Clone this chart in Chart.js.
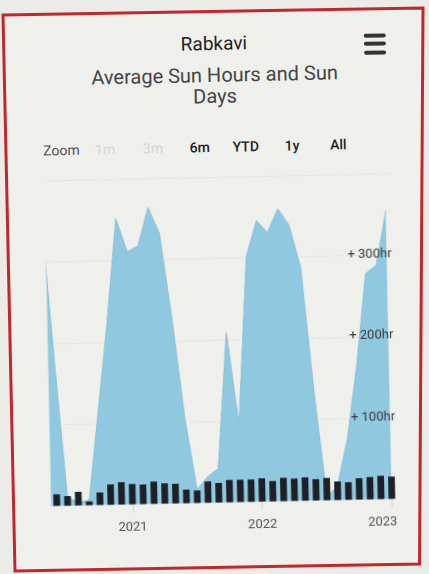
<!DOCTYPE html>
<html>
<head>
<meta charset="utf-8">
<title>Rabkavi - Average Sun Hours and Sun Days</title>
<script src="https://cdn.jsdelivr.net/npm/chart.js@4.4.1/dist/chart.umd.min.js"></script>
<style>
  html, body { margin: 0; padding: 0; width: 429px; height: 574px; overflow: hidden; background: #ebebe8; }
  #frame { position: absolute; left: 0; top: 0; }
  #page { position: absolute; left: 0; top: 0; width: 429px; height: 574px;
          transform: rotate(-1.2deg); transform-origin: 214px 287px; font-family: Roboto, sans-serif; }
  .center { position: absolute; left: 0; width: 438px; text-align: center; white-space: nowrap; }
  #t1 { top: 32.5px; font-size: 19px; line-height: 22px; color: #222; }
  #t2 { top: 65px; font-size: 20px; line-height: 21.3px; color: #444; }
  .btn { position: absolute; top: 139px; width: 44px; text-align: center; font-size: 14px; line-height: 16px; color: #222; font-weight: 500; }
  .btn.off { color: #d6d6d3; font-weight: 400; }
  #zoomLabel { position: absolute; left: 46px; top: 139px; font-size: 14px; line-height: 16px; color: #505050; }
  .bar { position: absolute; left: 369px; width: 22px; height: 4px; border-radius: 2px; background: #333; }
  #chart { position: absolute; left: 0; top: 0; }
</style>
</head>
<body>
<svg id="frame" width="429" height="574">
  <polygon points="3,15 423,8 419.5,564 15,571" fill="#efefec" stroke="#c0282e" stroke-width="3"/>
</svg>
<div id="page">
  <div class="center" id="t1">Rabkavi</div>
  <div class="center" id="t2">Average Sun Hours and Sun<br>Days</div>
  <div class="bar" style="top:36.5px"></div>
  <div class="bar" style="top:45px"></div>
  <div class="bar" style="top:53.5px"></div>
  <div id="zoomLabel">Zoom</div>
  <div class="btn off" style="left:86px">1m</div>
  <div class="btn off" style="left:134px">3m</div>
  <div class="btn" style="left:180.6px">6m</div>
  <div class="btn" style="left:226.7px">YTD</div>
  <div class="btn" style="left:273px">1y</div>
  <div class="btn" style="left:319.3px">All</div>
  <canvas id="chart" width="429" height="574"></canvas>
</div>
<script>
'use strict';

// monthly values, May 2020 .. Jan 2023
const months = [
  '2020-05', '2020-06', '2020-07', '2020-08', '2020-09', '2020-10', '2020-11', '2020-12',
  '2021-01', '2021-02', '2021-03', '2021-04', '2021-05', '2021-06', '2021-07', '2021-08',
  '2021-09', '2021-10', '2021-11', '2021-12', '2022-01', '2022-02', '2022-03', '2022-04',
  '2022-05', '2022-06', '2022-07', '2022-08', '2022-09', '2022-10', '2022-11', '2022-12',
  '2023-01'
];
const sunHours = [
  375, 186, 10, 4, 6, 115, 225, 352,
  311, 318, 365, 333, 228, 105, 17, 32,
  42, 209, 95, 302, 346, 331, 360, 340,
  288, 134, 4, 18, 75, 165, 278, 288,
  355
];
const sunDays = [
  null, 12, 10, 14, 4, 13, 21, 23,
  21, 20, 23, 21, 20, 14, 13, 22,
  20, 23, 23, 23, 24, 21, 24, 23,
  24, 22, 23, 19, 18, 22, 23, 24,
  23
];
const tickMonths = ['2021-01', '2022-01', '2023-01'];
const tickLabels = ['2021', '2022', '2023'];
const hourTicks = [100, 200, 300];

function monthNo(s) {
  const [y, m] = s.split('-').map(Number);
  return (y - 2020) * 12 + (m - 1);
}

const hourPoints = months.map((m, i) => ({ x: monthNo(m), y: sunHours[i] }));
const dayPoints = months.map((m, i) => ({ x: monthNo(m), y: sunDays[i] })).filter(p => p.y !== null);
const tickValues = tickMonths.map(monthNo);

new Chart(document.getElementById('chart'), {
  type: 'bar',
  data: {
    datasets: [{
      type: 'bar',
      label: 'Sun Days',
      data: dayPoints,
      yAxisID: 'yDays',
      backgroundColor: '#1d2026',
      barPercentage: 0.62,
      categoryPercentage: 1
    }, {
      type: 'line',
      label: 'Sun Hours',
      data: hourPoints,
      yAxisID: 'y',
      fill: 'origin',
      backgroundColor: '#8fc8df',
      borderColor: '#86c2db',
      borderWidth: 1,
      pointRadius: 0,
      tension: 0,
      clip: 0
    }]
  },
  options: {
    responsive: false,
    animation: false,
    layout: { padding: { left: 46.4, right: 36.7, top: 177.7, bottom: 33.7 } },
    plugins: { legend: { display: false }, tooltip: { enabled: false } },
    scales: {
      x: {
        type: 'linear',
        min: 4.45,
        max: 36.45,
        offset: false,
        afterBuildTicks: scale => { scale.ticks = tickValues.map(v => ({ value: v })); },
        grid: { offset: false, drawOnChartArea: false, drawTicks: true, tickLength: 8, color: '#d2d2cf' },
        border: { display: false },
        ticks: {
          padding: 7,
          color: '#555',
          font: { family: 'Roboto', size: 13 },
          maxRotation: 0,
          callback: (v, i) => {
            const label = tickLabels[tickValues.indexOf(v)] || '';
            // last label is pushed left to stay inside the chart
            return i === tickValues.length - 1 ? label + '      ' : label;
          }
        }
      },
      y: {
        position: 'left',
        min: 0,
        max: 400,
        ticks: { display: false, stepSize: 100 },
        grid: { color: 'rgba(0,0,0,0.06)', drawTicks: false },
        border: { display: false, dash: [3, 2] }
      },
      yLab: {
        position: 'right',
        min: 0,
        max: 400,
        afterBuildTicks: scale => { scale.ticks = hourTicks.map(v => ({ value: v })); },
        grid: { display: false, drawTicks: false },
        border: { display: false },
        ticks: {
          z: 1,
          mirror: true,
          padding: 0,
          labelOffset: -1,
          color: '#3a3a3a',
          font: { family: 'Roboto', size: 13 },
          callback: v => '+ ' + v + 'hr'
        }
      },
      yDays: {
        display: false,
        min: 0,
        max: 332
      }
    }
  }
});
</script>
</body>
</html>
